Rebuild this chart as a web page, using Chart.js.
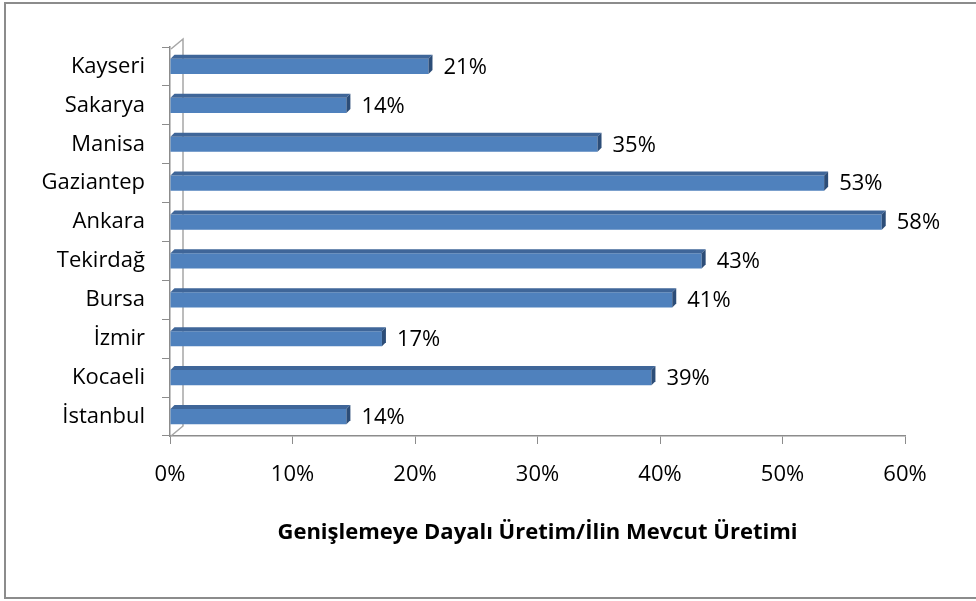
<!DOCTYPE html>
<html>
<head>
<meta charset="utf-8">
<script src="https://cdn.jsdelivr.net/npm/chart.js@4.4.1/dist/chart.umd.min.js"></script>
<style>
    html, body { margin: 0; padding: 0; background: #ffffff; }
</style>
</head>
<body>
<canvas id="share_plot" width="976" height="601"></canvas>
<script>
'use strict';

// Chart data
const cities = ['Kayseri', 'Sakarya', 'Manisa', 'Gaziantep', 'Ankara', 'Tekirdağ', 'Bursa', 'İzmir', 'Kocaeli', 'İstanbul'];
const shares = [21.1, 14.4, 34.9, 53.4, 58.1, 43.4, 41.0, 17.3, 39.3, 14.4]; // percent
const xTickValues = [0, 10, 20, 30, 40, 50, 60];
const axisTitle = 'Genişlemeye Dayalı Üretim/İlin Mevcut Üretimi';

const FONT = '"Open Sans", "Noto Sans", sans-serif';
const AXIS_GREY = '#8c8c8c';

Chart.defaults.font.family = FONT;
Chart.defaults.color = '#000000';

/**
 * Outer frame of the chart (grey lines on the left, top and bottom).
 */
const framePlugin = {
    id: 'frame',
    beforeDraw(chart) {
        const ctx = chart.ctx;
        ctx.save();
        ctx.fillStyle = '#ffffff';
        ctx.fillRect(0, 0, chart.width, chart.height);
        ctx.strokeStyle = AXIS_GREY;
        ctx.lineWidth = 2;
        ctx.beginPath();
        ctx.moveTo(chart.width, 3);
        ctx.lineTo(5, 3);
        ctx.lineTo(5, 598);
        ctx.lineTo(chart.width, 598);
        ctx.stroke();
        ctx.restore();
    }
};

/**
 * Back wall edge of the 3D plot (the slanted grey lines next to the category axis).
 */
const wallPlugin = {
    id: 'wall',
    beforeDatasetsDraw(chart) {
        const { ctx, chartArea } = chart;
        const { left, top, bottom } = chartArea;
        ctx.save();
        ctx.strokeStyle = '#a6a6a6';
        ctx.lineWidth = 1.5;
        ctx.beginPath();
        ctx.moveTo(left + 1, top + 2);
        ctx.lineTo(left + 13, top - 8);
        ctx.lineTo(left + 13, bottom - 10);
        ctx.lineTo(left + 1, bottom);
        ctx.stroke();
        ctx.restore();
    }
};

/**
 * Give the flat bars a top and a side face, then put the value label after each one.
 */
const bar3dPlugin = {
    id: 'bar3d',
    afterDatasetsDraw(chart) {
        const ctx = chart.ctx;
        const meta = chart.getDatasetMeta(0);
        const depth = 4;

        ctx.save();
        meta.data.forEach((bar, i) => {
            const { x, y, base, height } = bar.getProps(['x', 'y', 'base', 'height'], true);
            const top = y - height / 2;
            const bottom = y + height / 2;

            // Top face
            ctx.fillStyle = '#3f6699';
            ctx.beginPath();
            ctx.moveTo(base, top);
            ctx.lineTo(x, top);
            ctx.lineTo(x + depth, top - depth);
            ctx.lineTo(base + depth, top - depth);
            ctx.closePath();
            ctx.fill();

            // Side face
            ctx.fillStyle = '#2c4d78';
            ctx.beginPath();
            ctx.moveTo(x, top);
            ctx.lineTo(x + depth, top - depth);
            ctx.lineTo(x + depth, bottom - depth);
            ctx.lineTo(x, bottom);
            ctx.closePath();
            ctx.fill();

            // Value label
            ctx.fillStyle = '#000000';
            ctx.font = '22px ' + FONT;
            ctx.textAlign = 'left';
            ctx.textBaseline = 'middle';
            ctx.fillText(Math.round(shares[i]) + '%', x + depth + 11, y + 1);
        });
        ctx.restore();
    }
};

const chart = new Chart(document.getElementById('share_plot').getContext('2d'), {
    type: 'bar',
    data: {
        labels: cities,
        datasets: [{
            label: null,
            data: shares,
            backgroundColor: '#4f81bd',
            borderWidth: 0,
            barPercentage: 0.39,
            categoryPercentage: 1.0
        }]
    },
    options: {
        indexAxis: 'y',
        responsive: false,
        animation: false,
        layout: {
            padding: { left: 10, top: 47, right: 71, bottom: 0 }
        },
        plugins: {
            legend: { display: false },
            title: { display: false },
            tooltip: { enabled: false }
        },
        scales: {
            x: {
                type: 'linear',
                min: 0,
                max: 60,
                afterBuildTicks: (scale) => {
                    scale.ticks = xTickValues.map(v => ({ value: v }));
                },
                ticks: {
                    callback: (v) => v + '%',
                    font: { size: 22 },
                    color: '#000000',
                    padding: 18,
                    maxRotation: 0
                },
                grid: {
                    drawOnChartArea: false,
                    color: AXIS_GREY,
                    tickLength: 8
                },
                border: { color: AXIS_GREY, width: 1.5 },
                title: {
                    display: true,
                    text: axisTitle,
                    font: { size: 22, weight: 'bold' },
                    color: '#000000',
                    padding: { top: 0, bottom: 55 }
                },
                afterFit: (scale) => { scale.height = 165; }
            },
            y: {
                type: 'category',
                ticks: {
                    font: { size: 22 },
                    color: '#000000',
                    padding: 17
                },
                grid: {
                    drawOnChartArea: false,
                    color: AXIS_GREY,
                    tickLength: 8
                },
                border: { color: AXIS_GREY, width: 1.5 },
                afterFit: (scale) => { scale.width = 160; }
            }
        }
    },
    plugins: [framePlugin, wallPlugin, bar3dPlugin]
});
</script>
</body>
</html>
